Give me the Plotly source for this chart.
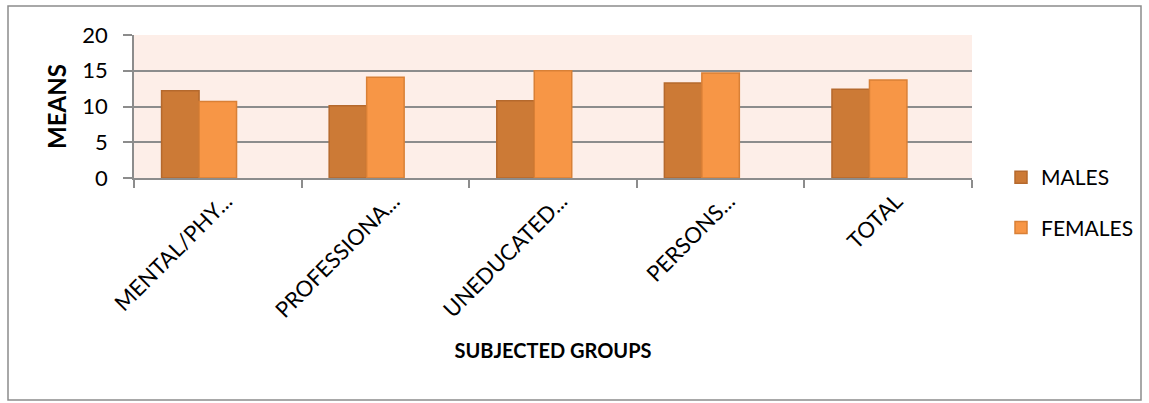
import plotly.graph_objects as go

categories = ["MENTAL/PHY...", "PROFESSIONA...", "UNEDUCATED...", "PERSONS...", "TOTAL"]
males = [12.2, 10.1, 10.8, 13.3, 12.4]
females = [10.7, 14.1, 15.0, 14.7, 13.7]
blank_series = [None, None, None, None, None]  # empty third series slot, as in the source chart
yticks = [0, 5, 10, 15, 20]

FONT = "Lato"
L, R, T, B = 134, 972, 35, 178
W, H = 1149, 403
pw, ph = R - L, B - T

def px(x):
    return (x - L) / pw

def py(y):
    return (B - y) / ph

fig = go.Figure()
fig.add_trace(go.Bar(x=categories, y=males, name="MALES", legendgroup="m",
                     marker=dict(color="#CC7A36", line=dict(color="#B5692D", width=1.5))))
fig.add_trace(go.Bar(x=categories, y=females, name="FEMALES", legendgroup="f",
                     marker=dict(color="#F79646", line=dict(color="#D98036", width=1.5))))
fig.add_trace(go.Bar(x=categories, y=blank_series, name="", showlegend=False,
                     hoverinfo="skip", marker=dict(color="rgba(0,0,0,0)", line=dict(width=0))))

fig.update_layout(
    width=W, height=H,
    margin=dict(l=L, r=W - R, t=T, b=H - B, autoexpand=False),
    paper_bgcolor="white",
    plot_bgcolor="#FDEEE8",
    barmode="group",
    bargap=0.329,
    bargroupgap=0,
    font=dict(family=FONT, color="black"),
    showlegend=True,
    legend=dict(x=px(1001), y=py(157), xanchor="left", yanchor="top",
                font=dict(size=21, family=FONT), tracegroupgap=20,
                itemwidth=30, bgcolor="rgba(0,0,0,0)"),
    shapes=[dict(type="rect", xref="paper", yref="paper",
                 x0=px(8), x1=px(1141), y0=py(400), y1=py(6),
                 line=dict(color="#8C8C8C", width=1.5), layer="below")],
)
fig.update_xaxes(
    type="category", tickson="boundaries", ticks="outside", ticklen=8,
    tickcolor="#8C8C8C", tickwidth=1.5, tickangle=-45, ticklabelshift=8,
    tickfont=dict(size=22, family=FONT),
    showline=True, linecolor="#8C8C8C", linewidth=1.5,
    automargin=False,
    title=dict(text="<b>SUBJECTED GROUPS</b>", font=dict(size=20, family=FONT), standoff=22),
)
fig.update_yaxes(
    range=[0, 20], tickvals=yticks, ticks="outside", ticklen=9,
    tickcolor="#8C8C8C", tickwidth=1.5, ticklabelstandoff=11,
    tickfont=dict(size=22, family=FONT),
    showgrid=True, gridcolor="#8C8C8C", gridwidth=1.5,
    showline=True, linecolor="#8C8C8C", linewidth=1.5,
    zeroline=False, automargin=False,
    title=dict(text="<b>MEANS</b>", font=dict(size=24, family=FONT), standoff=9),
)

fig.write_html("out.html")
